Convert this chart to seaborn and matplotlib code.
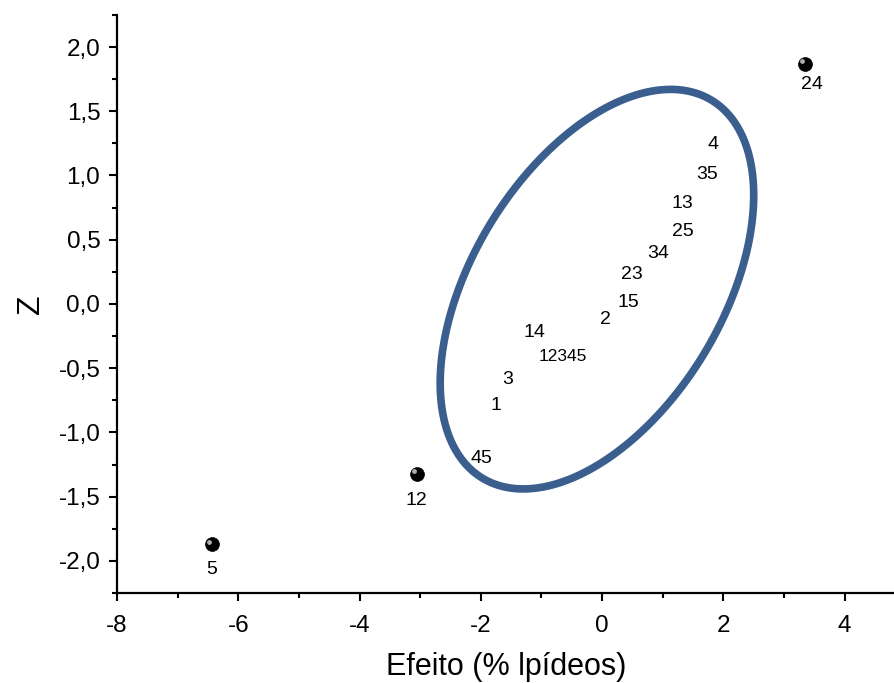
import numpy as np
import pandas as pd
import matplotlib
matplotlib.use("Agg")
import matplotlib.pyplot as plt
import matplotlib.transforms as mtransforms
from matplotlib.patches import Polygon
from matplotlib.ticker import MultipleLocator, FuncFormatter
import seaborn as sns

# ---- data ----
in_labels = ["4", "35", "13", "25", "34", "23", "15", "2", "14", "12345", "3", "1", "45"]
in_x = [1.83, 1.73, 1.32, 1.33, 0.92, 0.49, 0.44, 0.05, -1.12, -0.64, -1.55, -1.75, -1.99]
in_y = [1.24, 1.01, 0.78, 0.56, 0.39, 0.23, 0.01, -0.125, -0.22, -0.41, -0.59, -0.79, -1.20]

out_labels = ["5", "12", "24"]
out_x = [-6.44, -3.06, 3.34]
out_y = [-1.87, -1.32, 1.87]

# ellipse parameters (centre, half-extents, correlation)
ell_cx, ell_cy = -0.085, 0.115
ell_sx, ell_sy = 2.585, 1.555
ell_rho = 0.47

x_ticks = [-8, -6, -4, -2, 0, 2, 4]
y_ticks = [-2.0, -1.5, -1.0, -0.5, 0.0, 0.5, 1.0, 1.5, 2.0]

# ---- style ----
sns.set_style("ticks")
plt.rcParams["font.family"] = ["Liberation Sans", "DejaVu Sans"]
plt.rcParams["text.color"] = "black"
plt.rcParams["axes.labelcolor"] = "black"

fig = plt.figure(figsize=(8.95, 6.83), dpi=100)
ax = fig.add_axes([0.1307, 0.1318, 0.8693, 0.8464])

t = np.linspace(0, 2 * np.pi, 400, endpoint=False)
ell = pd.DataFrame({
    "x": ell_cx + ell_sx * np.cos(t),
    "y": ell_cy + ell_sy * (ell_rho * np.cos(t) + np.sqrt(1 - ell_rho ** 2) * np.sin(t)),
})
ax.add_patch(Polygon(ell[["x", "y"]].to_numpy(), closed=True, fill=False,
                     edgecolor="#3a5f8f", linewidth=5.5, joinstyle="round", zorder=2))

out_df = pd.DataFrame({"x": out_x, "y": out_y, "label": out_labels})
sns.scatterplot(data=out_df, x="x", y="y", ax=ax, color="black", s=100,
                edgecolor="black", linewidth=0.5, zorder=3)
hl = mtransforms.offset_copy(ax.transData, fig=fig, x=-1.8, y=1.8, units="points")
ax.scatter(out_x, out_y, s=12, color="#cfcfcf", alpha=0.85, linewidths=0,
           transform=hl, zorder=4)

offsets = {"5": (0, -18), "12": (0, -19.5), "24": (5, -15)}
for lab, x, y in zip(out_labels, out_x, out_y):
    ax.annotate(lab, (x, y), xytext=offsets[lab], textcoords="offset points",
                ha="center", va="center", fontsize=14)

for lab, x, y in zip(in_labels, in_x, in_y):
    ax.text(x, y, lab, ha="center", va="center",
            fontsize=12.5 if lab == "12345" else 14, zorder=5)

ax.set_xlim(-8, 4.83)
ax.set_ylim(-2.25, 2.25)
ax.set_xticks(x_ticks)
ax.set_yticks(y_ticks)
ax.xaxis.set_minor_locator(MultipleLocator(1))
ax.yaxis.set_minor_locator(MultipleLocator(0.25))
ax.xaxis.set_major_formatter(FuncFormatter(lambda v, p: f"{v:.0f}"))
ax.yaxis.set_major_formatter(FuncFormatter(lambda v, p: f"{v:.1f}".replace(".", ",")))

sns.despine(ax=ax)
for s in ["left", "bottom"]:
    ax.spines[s].set_linewidth(1.6)
    ax.spines[s].set_color("black")
ax.tick_params(axis="both", which="major", direction="out", length=6, width=1.5,
               labelsize=17.5, color="black", labelcolor="black")
ax.tick_params(axis="both", which="minor", direction="out", length=3.5, width=1.5,
               color="black")
ax.tick_params(axis="x", which="major", pad=10)
ax.tick_params(axis="y", which="major", pad=6)

ax.set_xlabel("Efeito (% lpídeos)", fontsize=22, labelpad=10.5)
ax.set_ylabel("Z", fontsize=23, labelpad=9)

fig.savefig("out.png", dpi=100)
